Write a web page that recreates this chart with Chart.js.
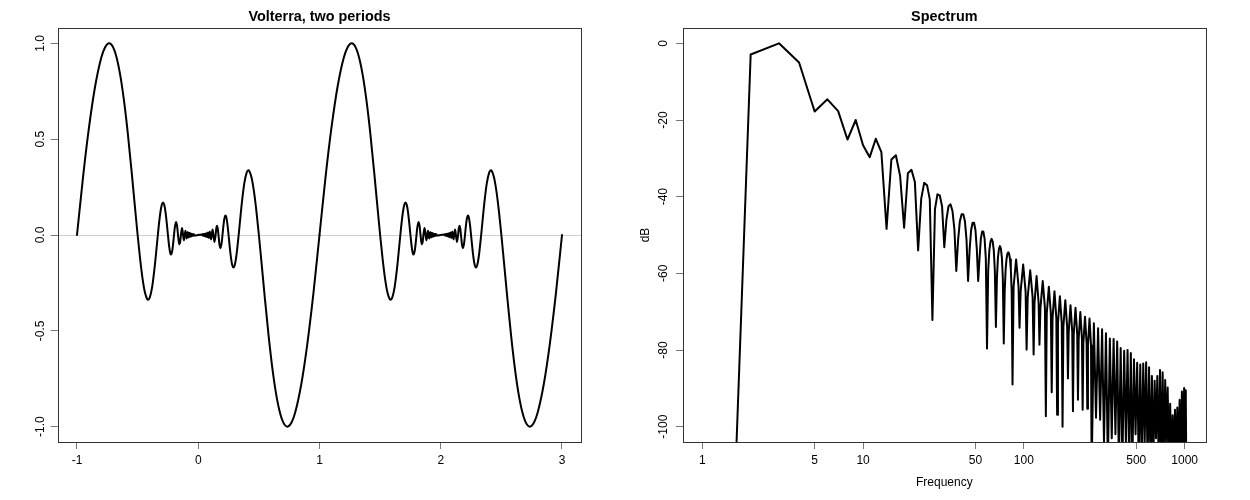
<!DOCTYPE html>
<html>
<head>
<meta charset="utf-8">
<script src="https://cdn.jsdelivr.net/npm/chart.js@4.4.1/dist/chart.umd.min.js"></script>
<style>
html,body{margin:0;padding:0;background:#fff;}
#wrap{position:relative;width:1250px;height:500px;overflow:hidden;}
#wrap canvas{position:absolute;top:0;}
</style>
</head>
<body>
<div id="wrap">
<canvas id="c1" width="625" height="500" style="left:0px"></canvas>
<canvas id="c2" width="625" height="500" style="left:625px"></canvas>
</div>
<script>
// ---------- Left panel: Volterra, two periods ----------
const volTitle = 'Volterra, two periods';
const periodStarts = [0, 2];
const volX = [-1,-0.95,-0.9,-0.85,-0.8,-0.77,-0.735,-0.7,-0.67,-0.64,-0.61,-0.58,-0.55,-0.52,-0.5,-0.48,-0.46,-0.44,-0.42,-0.4136,-0.4,-0.38,-0.36,-0.35,-0.3333,-0.32,-0.31,-0.3,-0.2906,-0.28,-0.27,-0.26,-0.25,-0.24,-0.23,-0.2245,-0.215,-0.207,-0.2,-0.193,-0.1831,-0.175,-0.1667,-0.161,-0.1546,-0.149,-0.1429,-0.1338,-0.125,-0.118,-0.1111,-0.1055,-0.1,-0.09541,-0.09091,-0.08709,-0.08333,-0.08011,-0.07692,-0.07416,-0.07143,-0.06903,-0.06667,-0.06457,-0.0625,-0.06065,-0.05882,-0.05718,-0.05556,-0.05409,-0.05263,-0.05131,-0.05,-0.0488,-0.04762,-0.04653,-0.04446,-0.04257,-0.04083,-0.03923,-0.03775,-0.03638,-0.03511,-0.03392,-0.03281,
0,
0.03281,0.03392,0.03511,0.03638,0.03775,0.03923,0.04083,0.04257,0.04446,0.04653,0.04762,0.0488,0.05,0.05131,0.05263,0.05409,0.05556,0.05718,0.05882,0.06065,0.0625,0.06457,0.06667,0.06903,0.07143,0.07416,0.07692,0.08011,0.08333,0.08709,0.09091,0.09541,0.1,0.1055,0.1111,0.118,0.125,0.1338,0.1429,0.149,0.1546,0.161,0.1667,0.175,0.1831,0.193,0.2,0.207,0.215,0.2245,0.23,0.24,0.25,0.26,0.27,0.28,0.2906,0.3,0.31,0.32,0.3333,0.35,0.36,0.38,0.4,0.4136,0.42,0.44,0.46,0.48,0.5,0.52,0.55,0.58,0.61,0.64,0.67,0.7,0.735,0.77,0.8,0.85,0.9,0.95,1];
const volY = [0,0.3034,0.5662,0.7773,0.9248,0.9773,1,0.9763,0.9172,0.821,0.6888,0.5241,0.3342,0.1323,0,-0.1219,-0.2247,-0.2991,-0.3356,-0.338,-0.327,-0.2702,-0.1703,-0.1086,0,0.0801,0.1279,0.1593,0.1697,0.1562,0.1195,0.0642,0,-0.0589,-0.096,-0.1019,-0.084,-0.0443,0,0.0411,0.068,0.0489,0,-0.0326,-0.0486,-0.0357,0,0.0365,0,-0.0284,0,0.0227,0,-0.0186,0,0.0155,0,-0.0131,0,0.0112,0,-0.0097,0,0.0085,0,-0.0075,0,0.0067,0,-0.006,0,0.0054,0,-0.0049,0,0.0044,-0.004,0.0037,-0.0034,0.0032,-0.0029,0.0027,-0.0025,0.0024,-0.0022,
0,
0.0022,-0.0024,0.0025,-0.0027,0.0029,-0.0032,0.0034,-0.0037,0.004,-0.0044,0,0.0049,0,-0.0054,0,0.006,0,-0.0067,0,0.0075,0,-0.0085,0,0.0097,0,-0.0112,0,0.0131,0,-0.0155,0,0.0186,0,-0.0227,0,0.0284,0,-0.0365,0,0.0357,0.0486,0.0326,0,-0.0489,-0.068,-0.0411,0,0.0443,0.084,0.1019,0.096,0.0589,0,-0.0642,-0.1195,-0.1562,-0.1697,-0.1593,-0.1279,-0.0801,0,0.1086,0.1703,0.2702,0.327,0.338,0.3356,0.2991,0.2247,0.1219,0,-0.1323,-0.3342,-0.5241,-0.6888,-0.821,-0.9172,-0.9763,-1,-0.9773,-0.9248,-0.7773,-0.5662,-0.3034,0];
const volXTicks = [-1, 0, 1, 2, 3];
const volXLabels = ['-1', '0', '1', '2', '3'];
const volYTicks = [-1, -0.5, 0, 0.5, 1];
const volYLabels = ['-1.0', '-0.5', '0.0', '0.5', '1.0'];

// ---------- Right panel: Spectrum ----------
const specTitle = 'Spectrum';
const specXTitle = 'Frequency';
const specYTitle = 'dB';
const specFreq = [1,2,3,4,5,6,7,8,9,10,11,12,13,14,15,16,17,18,19,20,21,22,23,24,25,26,27,28,29,30,31,32,33,34,35,36,37,38,39,40,41,42,43,44,45,46,47,48,49,50,51,52,53,54,55,56,57,58,59,60,61,62,63,64,65,66,67,68,69,70,71,72,73,74,75,76,77,78,79,80,81,82,83,84,85,
86.35,89.5,92.65,94,
95.5,99,102.5,104,
105.65,109.5,113.35,115,
116.5,120,123.5,125,
126.8,131,135.2,137,
138.8,143,147.2,149,
150.8,155,159.2,161,
162.95,167.5,172.05,174,
176.1,181,185.9,188,
190.1,195,199.9,202,
204.25,209.5,214.75,217,
219.25,224.5,229.75,232,
234.4,240,245.6,248,
250.4,256,261.6,264,
272.5,281,289.5,298,306.5,315,324,333,342.5,352,361.5,371,380.5,390,400,410,420.5,431,441.5,452,462.5,473,484,495,506.5,518,529.5,541,552.5,564,576,588,600.5,613,625.5,638,650.5,663,676,689,702.5,716,729.5,743,756.5,770,784,798,812.5,827,841.5,856,870.5,885,900,915,930.5,946,961.5,977,992.5,1008,1016,1024];
const specDb = [-350,-2.9,0,-5,-17.8,-14.6,-17.7,-25.1,-20,-26.6,
-29.7,-24.9,-28.4,-48.4,-30.3,-29.2,-34.6,-48.1,-33.9,-33,
-36.2,-54,-40.5,-36.4,-37,-40.7,-72.2,-43.3,-39.4,-39.7,
-42.5,-53.2,-46,-42.5,-42,-43.8,-48.6,-59.4,-51.3,-46.4,
-44.6,-44.6,-46.4,-51.3,-62,-53.8,-48.7,-46.8,-46.8,-48.7,
-53.8,-62,-56.1,-51,-49.1,-49.1,-51,-56.1,-79.6,-59.3,
-54,-51.7,-51,-51.7,-54,-59.3,-74,-61.2,-55.9,-53.6,
-52.9,-53.6,-55.9,-61.2,-78.3,-64.7,-59.1,-56.3,-54.9,-54.5,
-54.9,-56.3,-59.1,-64.7,-89,
-63.4,-56.4,-63.4,-74.2,
-64.7,-57.7,-64.7,-79.9,
-66.2,-59.2,-66.2,-81.2,
-67.7,-60.7,-67.7,-78.6,
-69,-62,-69,-97.3,
-70.5,-63.5,-70.5,-91,
-71.7,-64.7,-71.7,-96.9,
-73,-66,-73,-100,
-74,-67,-74,-87.4,
-75.3,-68.3,-75.3,-96,
-76,-69,-76,-93,
-77.1,-70.1,-77.1,-95.6,
-78.3,-71.3,-78.3,-95.3,
-78.8,-71.8,-78.8,-112,
-73,-97.7,-74.3,-98.2,-74.6,-104,-75.6,-110,-77,-103,-77.1,-102,-77.8,-110,-79.5,-110,-80.2,-104,-80,-110,-80.8,-110,-82.4,-102,-83.3,-110,-83.8,-110,-83.5,-104,-83.2,-110,-84.5,-110,-86.8,-110,-88,-103,-86.8,-110,-85.2,-110,-85.8,-110,-87.8,-104,-89.8,-110,-94,-110,-97,-110,-95.6,-110,-95,-110,-93,-110,-90.8,-110,-89.9,-110,-90.5,-112];
const specXTicks = [1, 5, 10, 50, 100, 500, 1000];
const specXLabels = ['1', '5', '10', '50', '100', '500', '1000'];
const specYTicks = [-100, -80, -60, -40, -20, 0];
const specYLabels = ['-100', '-80', '-60', '-40', '-20', '0'];

// ---------- Styling ----------
const FONT = "'Liberation Sans', Arial, Helvetica, sans-serif";
Chart.defaults.font.family = FONT;
Chart.defaults.font.size = 12;
Chart.defaults.color = '#000';

function framePlugin() {
  return {
    id: 'frame',
    afterDraw(chart) {
      const {ctx, chartArea: a} = chart;
      ctx.save();
      ctx.strokeStyle = '#333';
      ctx.lineWidth = 1;
      const l = Math.round(a.left) + 0.5, t = Math.round(a.top) + 0.5;
      const r = Math.round(a.right) + 0.5, b = Math.round(a.bottom) + 0.5;
      ctx.strokeRect(l, t, r - l, b - t);
      ctx.restore();
    }
  };
}
function titlePlugin(text) {
  return {
    id: 'mainTitle',
    afterDraw(chart) {
      const {ctx, chartArea: a} = chart;
      ctx.save();
      ctx.font = 'bold 14.4px ' + FONT;
      ctx.fillStyle = '#000';
      ctx.textAlign = 'center';
      ctx.textBaseline = 'alphabetic';
      ctx.fillText(text, (a.left + a.right) / 2, 20.5);
      ctx.restore();
    }
  };
}
function fixedTicks(values) {
  return (scale) => { scale.ticks = values.map(v => ({value: v})); };
}
const tickGrid = {drawOnChartArea: false, drawTicks: true, tickLength: 7, tickColor: '#777', lineWidth: 1};

// Left chart
new Chart(document.getElementById('c1'), {
  type: 'line',
  data: {
    datasets: periodStarts.map(s => ({
      data: volX.map((x, i) => ({x: x + s, y: volY[i]})),
      borderColor: '#000',
      borderWidth: 2,
      pointRadius: 0,
      fill: false,
      cubicInterpolationMode: 'monotone',
      borderJoinStyle: 'round',
      borderCapStyle: 'round'
    }))
  },
  options: {
    responsive: false, animation: false, devicePixelRatio: 1, events: [],
    layout: {padding: {top: 28, right: 43.6, left: 0, bottom: 0}},
    plugins: {legend: {display: false}, tooltip: {enabled: false}, title: {display: false}},
    scales: {
      x: {
        type: 'linear', min: -1.16, max: 3.16,
        afterBuildTicks: fixedTicks(volXTicks),
        afterFit: s => { s.height = 58; },
        grid: tickGrid,
        border: {display: false},
        ticks: {autoSkip: false, maxRotation: 0, minRotation: 0, padding: 4,
          callback: (v, i) => volXLabels[i]}
      },
      y: {
        type: 'linear', min: -1.08, max: 1.08,
        afterBuildTicks: fixedTicks(volYTicks),
        afterFit: s => { s.width = 57.6; },
        grid: {drawOnChartArea: true, drawTicks: true, tickLength: 7, tickColor: '#777', lineWidth: 1,
          color: ctx => (ctx.tick && ctx.tick.value === 0) ? '#cfcfcf' : 'rgba(0,0,0,0)'},
        border: {display: false},
        ticks: {autoSkip: false, minRotation: 90, maxRotation: 90, crossAlign: 'center', padding: 0,
          callback: (v, i) => volYLabels[i]}
      }
    }
  },
  plugins: [framePlugin(), titlePlugin(volTitle)]
});

// Right chart
new Chart(document.getElementById('c2'), {
  type: 'line',
  data: {
    datasets: [{
      data: specFreq.map((f, i) => ({x: f, y: specDb[i]})),
      borderColor: '#000',
      borderWidth: 2,
      pointRadius: 0,
      fill: false,
      tension: 0,
      clip: 0,
      borderJoinStyle: 'round',
      borderCapStyle: 'round'
    }]
  },
  options: {
    responsive: false, animation: false, devicePixelRatio: 1, events: [],
    layout: {padding: {top: 28, right: 44.3, left: 0, bottom: 0}},
    plugins: {legend: {display: false}, tooltip: {enabled: false}, title: {display: false}},
    scales: {
      x: {
        type: 'logarithmic', min: 0.7579, max: 1351.5,
        afterBuildTicks: fixedTicks(specXTicks),
        afterFit: s => { s.height = 58; },
        grid: tickGrid,
        border: {display: false},
        ticks: {autoSkip: false, maxRotation: 0, minRotation: 0, padding: 4,
          callback: (v, i) => specXLabels[i]},
        title: {display: true, text: specXTitle, font: {size: 12}, padding: {top: 0, bottom: 9.8}}
      },
      y: {
        type: 'linear', min: -104, max: 4,
        afterBuildTicks: fixedTicks(specYTicks),
        afterFit: s => { s.width = 57.9; },
        grid: tickGrid,
        border: {display: false},
        ticks: {autoSkip: false, minRotation: 90, maxRotation: 90, crossAlign: 'center', padding: 0,
          callback: (v, i) => specYLabels[i]},
        title: {display: true, text: specYTitle, font: {size: 12}, padding: {top: 13.8, bottom: 0}}
      }
    }
  },
  plugins: [framePlugin(), titlePlugin(specTitle)]
});
</script>
</body>
</html>
